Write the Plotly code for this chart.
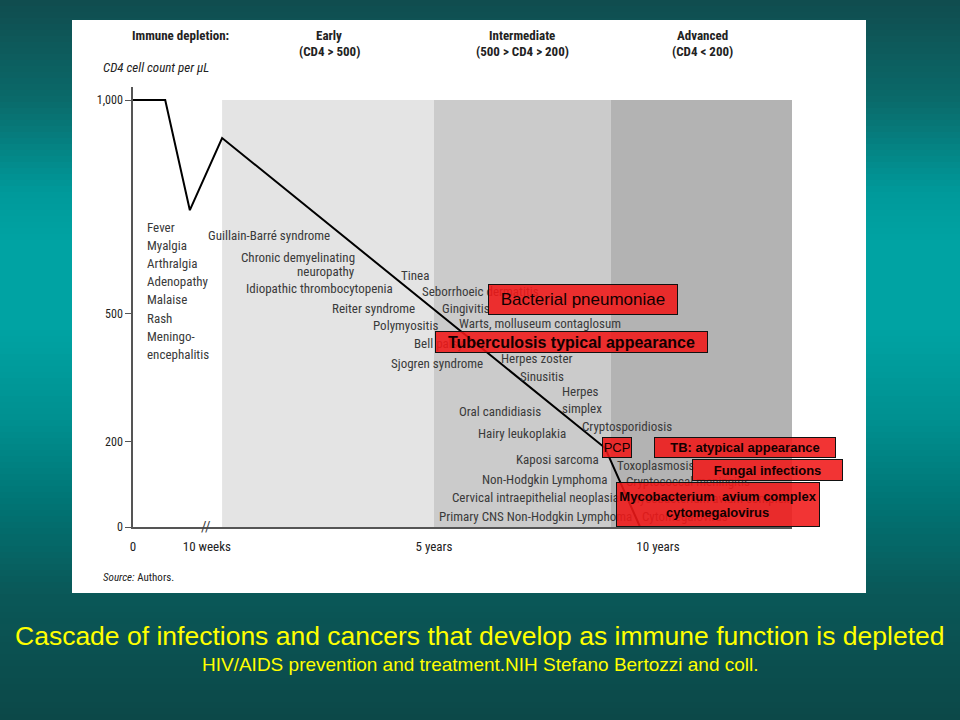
import plotly.graph_objects as go

# ---------------- data ----------------
# x axis is a compressed timeline: years after the "10 weeks" break, earlier part squeezed
time_pos = [-1.72, -1.0, -0.45, 0.27, 8.82, 9.6]
cd4_count = [1000, 1000, 742, 911, 185, 0]

stage_names = ["Early", "Intermediate", "Advanced"]
stage_sub = ["(CD4 > 500)", "(500 > CD4 > 200)", "(CD4 < 200)"]
stage_start = [0.27, 5.0, 8.95]
stage_end = [5.0, 8.95, 13.0]

y_tick_vals = [0, 200, 500, 1000]
y_tick_text = ["0", "200", "500", "1,000"]
x_tick_vals = [-1.72, -0.07, 5.0, 10.0]
x_tick_text = ["0", "10 weeks", "5 years", "10 years"]

acute_symptoms = ["Fever", "Myalgia", "Arthralgia", "Adenopathy", "Malaise", "Rash",
                  "Meningo-", "encephalitis"]
left_labels = ["Guillain-Barré syndrome", "Chronic demyelinating", "neuropathy",
               "Idiopathic thrombocytopenia", "Reiter syndrome", "Polymyositis",
               "Bell palsy", "Sjogren syndrome", "Oral candidiasis", "Hairy leukoplakia",
               "Kaposi sarcoma", "Non-Hodgkin Lymphoma",
               "Cervical intraepithelial neoplasia", "Primary CNS Non-Hodgkin Lymphoma"]
right_labels = ["Tinea", "Seborrhoeic dermatitis", "Gingivitis",
                "Warts, molluseum contaglosum", "Herpes zoster", "Sinusitis", "Herpes",
                "simplex", "Cryptosporidiosis", "Toxoplasmosis", "Cryptococcal meningitis",
                "Mycobacterium avium complex", "Cytomegalovirus"]
highlight_labels = ["Bacterial pneumoniae", "Tuberculosis typical appearance", "PCP",
                    "TB: atypical appearance", "Fungal infections",
                    "Mycobacterium  avium complex<br>cytomegalovirus"]

# ---------------- layout helpers (pixel -> data / paper) ----------------
W, H = 960, 720
PL, PR, PT, PB = 133, 792, 87, 527          # plot area in pixels
X0_PX, PX_PER_YEAR = 210.0, 44.8
PX_PER_UNIT = 0.427


def xd(px):
    return (px - X0_PX) / PX_PER_YEAR


def yd(py):
    return (PB - py) / PX_PER_UNIT


def xp(px):
    return (px - PL) / (PR - PL)


def yp(py):
    return (PB - py) / (PB - PT)


NARROW = "Liberation Sans Narrow, Roboto Condensed, Roboto, DejaVu Sans Condensed, sans-serif"
TXT = "#3a3a3a"

fig = go.Figure()

fig.add_trace(go.Scatter(x=time_pos, y=cd4_count, mode="lines",
                         line=dict(color="black", width=2), hoverinfo="skip",
                         showlegend=False))

shapes = []
# background gradient
stops = [(0, (16, 76, 78)), (100, (10, 106, 106)), (190, (0, 153, 154)),
         (240, (0, 163, 163)), (330, (0, 163, 163)), (420, (0, 144, 144)),
         (500, (0, 117, 117)), (593, (10, 88, 88)), (720, (12, 72, 72))]


def grad(y):
    for (a, ca), (b, cb) in zip(stops[:-1], stops[1:]):
        if a <= y <= b:
            t = (y - a) / (b - a)
            return tuple(int(round(ca[i] + (cb[i] - ca[i]) * t)) for i in range(3))
    return stops[-1][1]


step = 6
for y0 in range(0, H, step):
    c = grad(y0 + step / 2)
    shapes.append(dict(type="rect", xref="paper", yref="paper", x0=xp(0), x1=xp(W),
                       y0=yp(y0 + step + 0.5), y1=yp(y0), line=dict(width=0),
                       fillcolor=f"rgb{c}", layer="below"))
# white panel
shapes.append(dict(type="rect", xref="paper", yref="paper", x0=xp(72), x1=xp(866),
                   y0=yp(593), y1=yp(20), line=dict(width=0), fillcolor="white",
                   layer="below"))
# stage shading
stage_colors = ["#e4e4e4", "#cbcbcb", "#b3b3b3"]
for s, e, c in zip(stage_start, stage_end, stage_colors):
    shapes.append(dict(type="rect", xref="x", yref="y", x0=s, x1=e, y0=0, y1=1000,
                       line=dict(width=0), fillcolor=c, layer="below"))

ann = []
HDR = dict(family=NARROW, size=13, color="#222")


def paper_text(text, px, py, font, xanchor="center"):
    ann.append(dict(text=text, x=xp(px), y=yp(py), xref="paper", yref="paper",
                    xanchor=xanchor, yanchor="middle", showarrow=False, font=font))


paper_text("<b>Immune depletion:</b>", 180, 35, HDR)
for name, sub, cx in zip(stage_names, stage_sub, [329, 522, 702]):
    paper_text(f"<b>{name}</b>", cx, 35, HDR)
    paper_text(f"<b>{sub}</b>", cx, 52, HDR)
paper_text("<i>CD4 cell count per μL</i>", 101, 67,
           dict(family=NARROW, size=13, color="#222"), xanchor="left")
paper_text("<i>Source:</i> Authors.", 101, 577,
           dict(family=NARROW, size=11, color="#222"), xanchor="left")

# axis break mark
ann.append(dict(text="//", x=xd(206), y=0, xref="x", yref="y", showarrow=False,
                font=dict(family=NARROW, size=15, color="#444")))

# acute symptoms block
for i, t in enumerate(acute_symptoms):
    ann.append(dict(text=t, x=xd(145), y=yd(227 + i * 18.2), xref="x", yref="y",
                    xanchor="left", showarrow=False, font=dict(family=NARROW, size=13, color=TXT)))

left_pos = [(332, 235), (357, 257), (357, 271), (395, 288), (417, 308), (440, 325),
            (466, 343), (485, 363), (543, 411), (568, 433), (601, 459), (609, 479),
            (621, 497), (634, 516)]
for t, (px, py) in zip(left_labels, left_pos):
    ann.append(dict(text=t, x=xd(px), y=yd(py), xref="x", yref="y", xanchor="right",
                    showarrow=False, font=dict(family=NARROW, size=13, color=TXT)))

right_pos = [(399, 275), (420, 291), (440, 308), (457, 323), (499, 358), (518, 376),
             (560, 391), (560, 408), (580, 426), (615, 465), (624, 481), (628, 498),
             (640, 516)]
for t, (px, py) in zip(right_labels, right_pos):
    ann.append(dict(text=t, x=xd(px), y=yd(py), xref="x", yref="y", xanchor="left",
                    showarrow=False, font=dict(family=NARROW, size=13, color=TXT)))

# red highlight boxes
boxes = [(488, 678, 284, 315, 17, False), (435, 708, 331, 353, 16, True),
         (602, 632, 437, 458, 13, False), (654, 836, 437, 458, 13, True),
         (692, 843, 459, 481, 13, True), (616, 820, 482, 527, 13, True)]
for t, (x0, x1, y0, y1, fs, bold) in zip(highlight_labels, boxes):
    txt = f"<b>{t}</b>" if bold else t
    ann.append(dict(text=txt, x=xd((x0 + x1) / 2), y=yd((y0 + y1) / 2), xref="x", yref="y",
                    showarrow=False, width=x1 - x0 - 4, height=y1 - y0 - 4,
                    bgcolor="rgba(240,24,24,0.88)", bordercolor="#111", borderwidth=1,
                    borderpad=1, align="center",
                    font=dict(family="Arial, Liberation Sans, sans-serif", size=fs,
                              color="#120000")))

# slide titles
paper_text("Cascade of infections and cancers that develop as immune function is depleted",
           480, 636, dict(family="Liberation Sans, Arial, sans-serif", size=26.5,
                          color="#ffff00"))
paper_text("HIV/AIDS prevention and treatment.NIH Stefano Bertozzi and coll.",
           480, 664, dict(family="Liberation Sans, Arial, sans-serif", size=19,
                          color="#ffff00"))

fig.update_layout(
    width=W, height=H,
    margin=dict(l=PL, r=W - PR, t=PT, b=H - PB, pad=0),
    paper_bgcolor="rgb(0,120,120)", plot_bgcolor="rgba(0,0,0,0)",
    shapes=shapes, annotations=ann, showlegend=False,
    xaxis=dict(range=[xd(PL), xd(PR)], showgrid=False, zeroline=False,
               showline=True, linecolor="#555", linewidth=1.5,
               tickvals=x_tick_vals, ticktext=x_tick_text, ticks="outside",
               ticklen=7, tickcolor="rgba(0,0,0,0)",
               tickfont=dict(family=NARROW, size=13, color="#222")),
    yaxis=dict(range=[0, yd(PT)], showgrid=False, zeroline=False,
               showline=True, linecolor="#555", linewidth=1.5,
               tickvals=y_tick_vals, ticktext=y_tick_text, ticks="outside",
               ticklen=6, tickcolor="#555",
               tickfont=dict(family=NARROW, size=12, color="#222")),
)

fig.write_html("out.html", config={"displayModeBar": False},
               post_script="document.body.style.margin='0';document.body.style.overflow='hidden';")
